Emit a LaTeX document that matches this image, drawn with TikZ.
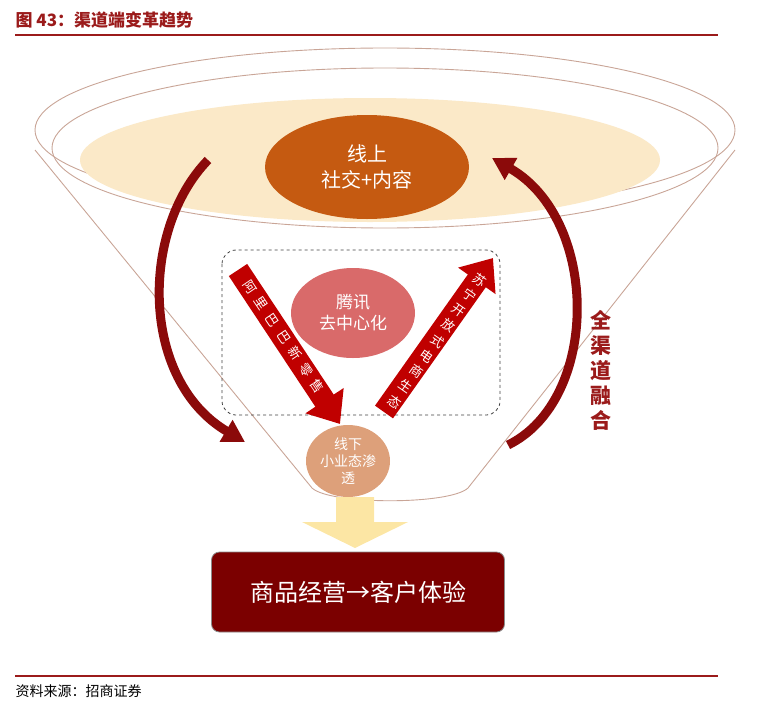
\documentclass[tikz,border=0pt]{standalone}
\usepackage{fontspec}
\setmainfont{Noto Sans CJK SC}
\usetikzlibrary{arrows.meta,calc}
\definecolor{tred}{HTML}{9B1B1B}
\definecolor{funl}{HTML}{C9A597}
\definecolor{cream}{HTML}{FBE9C8}
\definecolor{orng}{HTML}{C55A11}
\definecolor{pinkr}{HTML}{D96A6A}
\definecolor{peach}{HTML}{DDA07A}
\definecolor{arred}{HTML}{C00000}
\definecolor{darkr}{HTML}{8B0A0A}
\definecolor{maroon}{HTML}{7B0000}
\definecolor{yel}{HTML}{FCE6A4}
\tikzset{
 funline/.style={draw=funl, line width=0.9pt},
 blockarr/.style={line width=22pt, draw=arred, -{Triangle[width=44pt,length=28pt]}},
 bigarr/.style={line width=9pt, draw=darkr, -{Triangle[width=24pt,length=22pt]}},
 wtxt/.style={text=white, align=center, font=\fontsize{17}{21}\selectfont},
 achar/.style={text=white, inner sep=0pt, font=\fontsize{13}{13}\selectfont},
}
\begin{document}
\begin{tikzpicture}[x=1pt,y=-1pt]
\useasboundingbox (0,0) rectangle (762,712);
\node[anchor=west, text=tred, font=\fontsize{17}{19}\selectfont\bfseries] (title) at (12,20) {图 43：渠道端变革趋势};
\draw[tred, line width=2.5pt] (15,35) -- (718,35);
% funnel
\draw[funline] (35,150) -- (312,488) .. controls (330,505) and (450,505) .. (468,488) -- (735,150);
\draw[funline, fill=white] (385,130) ellipse (350 and 82);
\draw[funline] (385,148) ellipse (333 and 80);
\fill[cream] (370,160) ellipse (290 and 62);
% top ellipse
\fill[orng] (367,167) ellipse (102 and 52);
\node[wtxt, font=\fontsize{20}{26}\selectfont] (online) at (367,167) {线上\\社交+内容};
% dashed box
\draw[dashed, line width=0.8pt, rounded corners=14pt, draw=black!75] (222,250) rectangle (500,415);
\fill[pinkr] (353,313) ellipse (62 and 45);
\node[wtxt] (tx) at (353,313) {腾讯\\去中心化};
% block arrows
\coordinate (a1s) at (238,270); \coordinate (a1e) at (340,424);
\coordinate (a2s) at (384,412); \coordinate (a2e) at (493,258);
\draw[blockarr] (a1s) -- (a1e);
\draw[blockarr] (a2s) -- (a2e);
\foreach \c [count=\i from 0] in {阿,里,巴,巴,新,零,售}
  \node[achar, rotate=-56] (al\i) at ($(250,287)+\i*(11.2,16.6)$) {\c};
\foreach \c [count=\i from 0] in {苏,宁,开,放,式,电,商,生,态}
  \node[achar, rotate=-35] (sn\i) at ($(480,280)+\i*(-10.6,15.2)$) {\c};
% offline
\fill[peach] (348,461) ellipse (42 and 36);
\node[wtxt, font=\fontsize{14}{17}\selectfont] (off) at (348,461) {线下\\小业态渗\\透};
% big curved arrows
\coordinate (l1) at (208,160); \coordinate (l2) at (245,442);
\draw[bigarr] (l1) .. controls (140,230) and (140,380) .. (l2);
\coordinate (r1) at (508,445); \coordinate (r2) at (492,158);
\draw[bigarr] (r1) .. controls (600,400) and (600,220) .. (r2);
\node[text=tred, align=center, font=\fontsize{21}{25}\selectfont\bfseries] (all) at (601,370) {全\\渠\\道\\融\\合};
% yellow arrow
\fill[yel] (336,497) -- (374,497) -- (374,522) -- (408,522) -- (355,548) -- (302,522) -- (336,522) -- cycle;
% result box
\node[draw=black!45, line width=0.8pt, fill=maroon, rounded corners=8pt, minimum width=293pt, minimum height=80pt, text=white, font=\fontsize{24}{28}\selectfont] (res) at (358,592) {商品经营→客户体验};
% footer
\draw[tred, line width=1.2pt] (15,676) -- (718,676);
\node[anchor=west, font=\fontsize{14}{16}\selectfont] (src) at (12,691) {资料来源：招商证券};
\end{tikzpicture}
\end{document}
